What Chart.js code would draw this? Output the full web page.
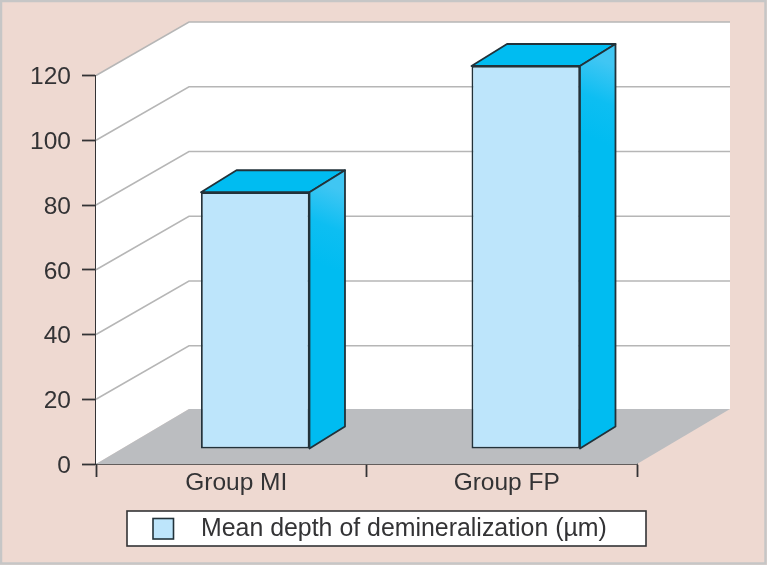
<!DOCTYPE html>
<html>
<head>
<meta charset="utf-8">
<style>
html,body{margin:0;padding:0;background:#fff;}
#wrap{position:relative;width:767px;height:565px;}
canvas{display:block;}
</style>
<script src="https://cdn.jsdelivr.net/npm/chart.js@4/dist/chart.umd.min.js"></script>
</head>
<body>
<div id="wrap"><canvas id="c" width="767" height="565"></canvas></div>
<script>
const categories = ["Group MI", "Group FP"];
const seriesLabel = "Mean depth of demineralization (\u00B5m)";
const seriesValues = [79.3, 118.3];
const yTickValues = [0, 20, 40, 60, 80, 100, 120];

const FONT = '"Liberation Sans", Arial, sans-serif';
const INK = "#333335";
const EDGE = "#22323a";
const FRONT = "#bde5fb";
const TOP = "#00bcf1";
const WALL = {dx: 93, dy: -53.5};
const FLOOR_DY = -55;
const BAR_SHIFT = {dx: 24, dy: -15};
const BAR_DEPTH = {dx: 35.5, dy: -22};

const scene = {
  id: "scene",
  beforeDraw(chart) {
    const {ctx, width, height} = chart;
    ctx.save();
    ctx.fillStyle = "#eed9d1";
    ctx.fillRect(0, 0, width, height);
    ctx.strokeStyle = "#c6c6c6";
    ctx.lineWidth = 2.5;
    ctx.strokeRect(1, 1, width - 2.5, height - 2.5);
    ctx.restore();
  },
  beforeDatasetsDraw(chart) {
    const {ctx, chartArea: a, scales: {y}} = chart;
    const bx = a.left + WALL.dx, by = a.bottom + FLOOR_DY;
    const topBack = y.getPixelForValue(120) + WALL.dy;
    ctx.save();
    // side and back wall
    ctx.fillStyle = "#ffffff";
    ctx.beginPath();
    ctx.moveTo(a.left, a.top);
    ctx.lineTo(bx, topBack);
    ctx.lineTo(a.right + WALL.dx, topBack);
    ctx.lineTo(a.right + WALL.dx, by);
    ctx.lineTo(bx, by);
    ctx.lineTo(a.left, a.bottom);
    ctx.closePath();
    ctx.fill();
    // floor
    ctx.fillStyle = "#bbbdc0";
    ctx.beginPath();
    ctx.moveTo(a.left, a.bottom);
    ctx.lineTo(bx, by);
    ctx.lineTo(a.right + WALL.dx, by);
    ctx.lineTo(a.right, a.bottom);
    ctx.closePath();
    ctx.fill();
    // grid
    ctx.strokeStyle = "#b6b6b6";
    ctx.lineWidth = 1.5;
    yTickValues.slice(1).forEach(v => {
      const py = y.getPixelForValue(v);
      ctx.beginPath();
      ctx.moveTo(a.left, py);
      ctx.lineTo(bx, py + WALL.dy);
      ctx.lineTo(a.right + WALL.dx, py + WALL.dy);
      ctx.stroke();
    });
    ctx.restore();
    // the library's bars are drawn in the plane a little behind the axis
    ctx.save();
    ctx.translate(BAR_SHIFT.dx, BAR_SHIFT.dy);
  },
  afterDatasetsDraw(chart) {
    const {ctx} = chart;
    ctx.restore();
    const d = BAR_DEPTH;
    ctx.save();
    ctx.strokeStyle = EDGE;
    ctx.lineWidth = 1.8;
    ctx.lineJoin = "round";
    chart.getDatasetMeta(0).data.forEach(bar => {
      const half = bar.width / 2;
      const l = bar.x - half + BAR_SHIFT.dx, r = bar.x + half + BAR_SHIFT.dx;
      const t = bar.y + BAR_SHIFT.dy, b = bar.base + BAR_SHIFT.dy;
      // top face
      ctx.fillStyle = TOP;
      ctx.beginPath();
      ctx.moveTo(l, t);
      ctx.lineTo(l + d.dx, t + d.dy);
      ctx.lineTo(r + d.dx, t + d.dy);
      ctx.lineTo(r, t);
      ctx.closePath();
      ctx.fill();
      ctx.stroke();
      // side face
      const g = ctx.createLinearGradient(r + 6, t + 70, r + d.dx, t);
      g.addColorStop(0, "#00bcf1");
      g.addColorStop(0.5, "#0dbef2");
      g.addColorStop(1, "#40c6f3");
      ctx.fillStyle = g;
      ctx.beginPath();
      ctx.moveTo(r, t);
      ctx.lineTo(r + d.dx, t + d.dy);
      ctx.lineTo(r + d.dx, b + d.dy);
      ctx.lineTo(r, b);
      ctx.closePath();
      ctx.fill();
      ctx.stroke();
    });
    ctx.restore();
  },
  afterDraw(chart) {
    const {ctx} = chart;
    ctx.save();
    ctx.fillStyle = "#ffffff";
    ctx.strokeStyle = "#333335";
    ctx.lineWidth = 1.6;
    ctx.fillRect(127, 511, 519, 35);
    ctx.strokeRect(127, 511, 519, 35);
    ctx.fillStyle = FRONT;
    ctx.strokeStyle = EDGE;
    ctx.fillRect(153, 518.5, 20.5, 20.5);
    ctx.strokeRect(153, 518.5, 20.5, 20.5);
    ctx.fillStyle = INK;
    ctx.font = "24.9px " + FONT;
    ctx.textBaseline = "middle";
    ctx.textAlign = "left";
    ctx.fillText(chart.data.datasets[0].label, 201, 529.5);
    ctx.restore();
  }
};

new Chart(document.getElementById("c"), {
  type: "bar",
  data: {
    labels: categories,
    datasets: [{
      label: seriesLabel,
      data: seriesValues,
      backgroundColor: FRONT,
      borderColor: EDGE,
      borderWidth: 1.8,
      borderSkipped: false,
      categoryPercentage: 1,
      barPercentage: 0.401
    }]
  },
  options: {
    responsive: false,
    animation: false,
    layout: {padding: {top: 75.5, right: 130, left: 0, bottom: 0}},
    plugins: {legend: {display: false}, tooltip: {enabled: false}, title: {display: false}},
    scales: {
      x: {
        afterFit(s) { s.height = 101; },
        border: {display: true, color: INK, width: 1.8},
        grid: {display: true, drawOnChartArea: false, drawTicks: true, tickLength: 13, tickColor: INK, tickWidth: 1.8, offset: true},
        ticks: {color: INK, padding: -8, labelOffset: 5, maxRotation: 0, font: {family: FONT, size: 24.5}}
      },
      y: {
        min: 0, max: 120,
        afterFit(s) { s.width = 96; },
        afterBuildTicks(s) { s.ticks = yTickValues.map(v => ({value: v})); },
        border: {display: true, color: INK, width: 1.8},
        grid: {display: true, drawOnChartArea: false, drawTicks: true, tickLength: 14, tickColor: INK, tickWidth: 1.8},
        ticks: {color: INK, padding: 11, labelOffset: 2, font: {family: FONT, size: 24.5}}
      }
    }
  },
  plugins: [scene]
});
</script>
</body>
</html>
